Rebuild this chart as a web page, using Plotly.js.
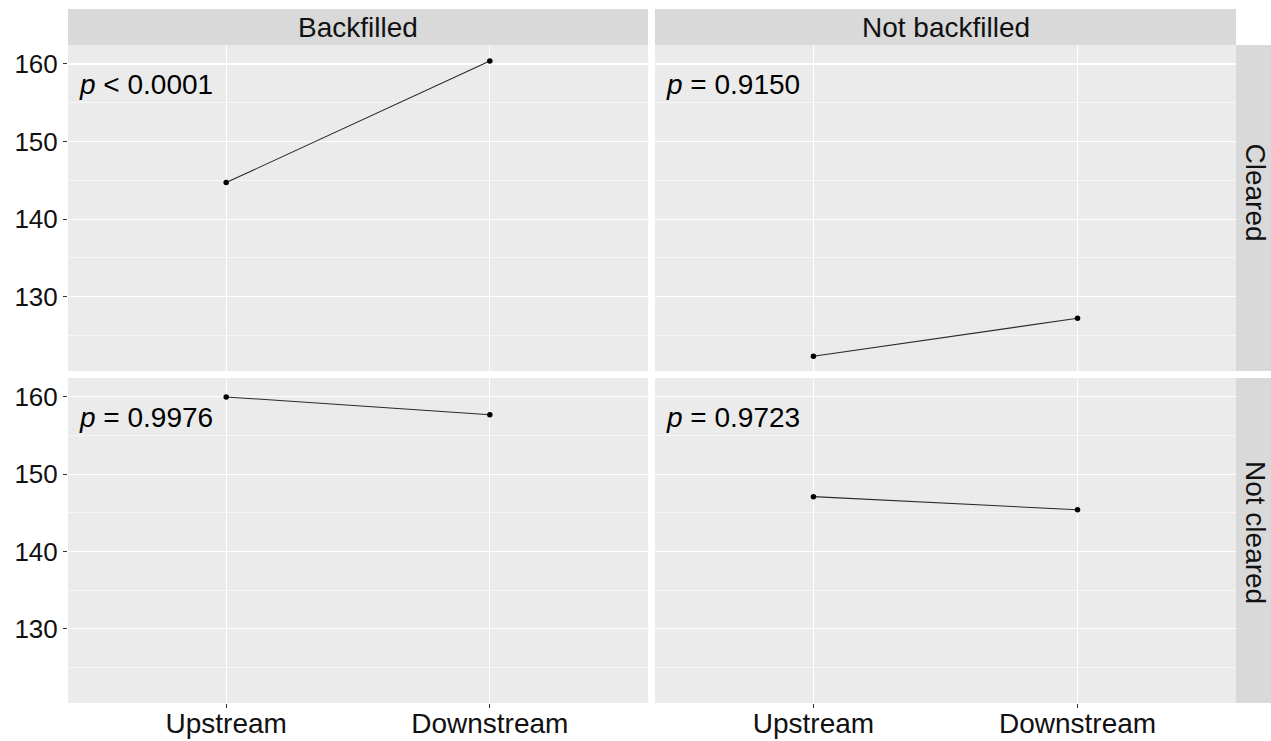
<!DOCTYPE html>
<html>
<head>
<meta charset="utf-8">
<script src="https://cdn.plot.ly/plotly-3.0.1.min.js"></script>
<style>html,body{margin:0;padding:0;background:#fff;}#chart{width:1271px;height:741px;}</style>
</head>
<body>
<div id="chart"></div>
<script>
// ---- data ----
const categories = ['Upstream', 'Downstream'];
const colFacets = ['Backfilled', 'Not backfilled'];
const rowFacets = ['Cleared', 'Not cleared'];
const clearedBackfilled = [144.7, 160.4];
const clearedNotBackfilled = [122.3, 127.2];
const notClearedBackfilled = [160.0, 157.7];
const notClearedNotBackfilled = [147.1, 145.4];
const pLabels = ['<i>p</i> < 0.0001', '<i>p</i> = 0.9150', '<i>p</i> = 0.9976', '<i>p</i> = 0.9723'];
const yTicks = [130, 140, 150, 160];

// ---- layout geometry ----
const W = 1271, H = 741;
const colPx = [[68, 648], [655, 1236]];
const rowPx = [[45, 371], [378, 703]];
const rowLabelShift = [16, 8];
const stripTop = 9, stripRight = 1271;
const FONT = 'Liberation Sans, Arial, sans-serif';
const panelBg = '#EBEBEB', stripBg = '#D9D9D9';
const yRange = [120.4, 162.45];

const series = [clearedBackfilled, clearedNotBackfilled, notClearedBackfilled, notClearedNotBackfilled];
const traces = [];
const layout = {
  width: W, height: H, margin: {l: 0, r: 0, t: 0, b: 0},
  paper_bgcolor: '#fff', plot_bgcolor: panelBg, showlegend: false,
  font: {family: FONT, color: '#111'},
  shapes: [], annotations: []
};

for (let r = 0; r < 2; r++) {
  for (let c = 0; c < 2; c++) {
    const i = r * 2 + c;
    const sfx = i === 0 ? '' : String(i + 1);
    traces.push({
      type: 'scatter', mode: 'lines+markers',
      x: categories, y: series[i],
      xaxis: 'x' + sfx, yaxis: 'y' + sfx,
      line: {color: '#2a2a2a', width: 1.1},
      marker: {color: '#000', size: 5.5},
      hoverinfo: 'skip'
    });
    const xd = [colPx[c][0] / W, colPx[c][1] / W];
    const yd = [1 - rowPx[r][1] / H, 1 - rowPx[r][0] / H];
    layout['xaxis' + sfx] = {
      domain: xd, anchor: 'y' + sfx, type: 'category',
      categoryorder: 'array', categoryarray: categories,
      range: [-0.6, 1.6], fixedrange: true,
      showgrid: true, gridcolor: '#fff', gridwidth: 1.1,
      zeroline: false, showline: false,
      showticklabels: r === 1, ticks: r === 1 ? 'outside' : '',
      ticklen: 4, tickwidth: 1, tickcolor: '#333',
      ticklabelstandoff: -9,
      tickfont: {family: FONT, size: 28, color: '#111'}
    };
    layout['yaxis' + sfx] = {
      domain: yd, anchor: 'x' + sfx, range: yRange, fixedrange: true,
      tickvals: yTicks, ticktext: yTicks.map(String),
      showgrid: true, gridcolor: '#fff', gridwidth: 1.1,
      minor: {dtick: 5, tick0: 0, showgrid: true, gridcolor: '#fff', gridwidth: 0.55, ticks: ''},
      zeroline: false, showline: false,
      showticklabels: c === 0, ticks: c === 0 ? 'outside' : '',
      ticklen: 4, tickwidth: 1, tickcolor: '#333',
      tickfont: {family: FONT, size: 26, color: '#111'}
    };
    layout.annotations.push({
      xref: 'x' + sfx + ' domain', yref: 'y' + sfx,
      x: 0.0155, y: 157.4, xanchor: 'left', yanchor: 'middle',
      text: pLabels[i], showarrow: false,
      font: {family: FONT, size: 28, color: '#000'}
    });
  }
}

// column strips
for (let c = 0; c < 2; c++) {
  layout.shapes.push({
    type: 'rect', xref: 'paper', yref: 'paper', layer: 'below',
    x0: colPx[c][0] / W, x1: colPx[c][1] / W,
    y0: 1 - rowPx[0][0] / H, y1: 1 - stripTop / H,
    fillcolor: stripBg, line: {width: 0}
  });
  layout.annotations.push({
    xref: 'paper', yref: 'paper',
    x: (colPx[c][0] + colPx[c][1]) / 2 / W, y: 1 - (stripTop + rowPx[0][0]) / 2 / H,
    xanchor: 'center', yanchor: 'middle', text: colFacets[c], showarrow: false,
    font: {family: FONT, size: 28, color: '#111'}
  });
}
// row strips
for (let r = 0; r < 2; r++) {
  layout.shapes.push({
    type: 'rect', xref: 'paper', yref: 'paper', layer: 'below',
    x0: colPx[1][1] / W, x1: stripRight / W,
    y0: 1 - rowPx[r][1] / H, y1: 1 - rowPx[r][0] / H,
    fillcolor: stripBg, line: {width: 0}
  });
  layout.annotations.push({
    xref: 'paper', yref: 'paper',
    x: (colPx[1][1] + stripRight) / 2 / W, y: 1 - (rowPx[r][0] + rowPx[r][1]) / 2 / H,
    xanchor: 'center', yanchor: 'middle', textangle: 90, text: rowFacets[r], showarrow: false,
    xshift: 2, yshift: rowLabelShift[r], borderpad: 0,
    font: {family: FONT, size: 28, color: '#111'}
  });
}

Plotly.newPlot('chart', traces, layout, {staticPlot: true, displayModeBar: false});
</script>
</body>
</html>
